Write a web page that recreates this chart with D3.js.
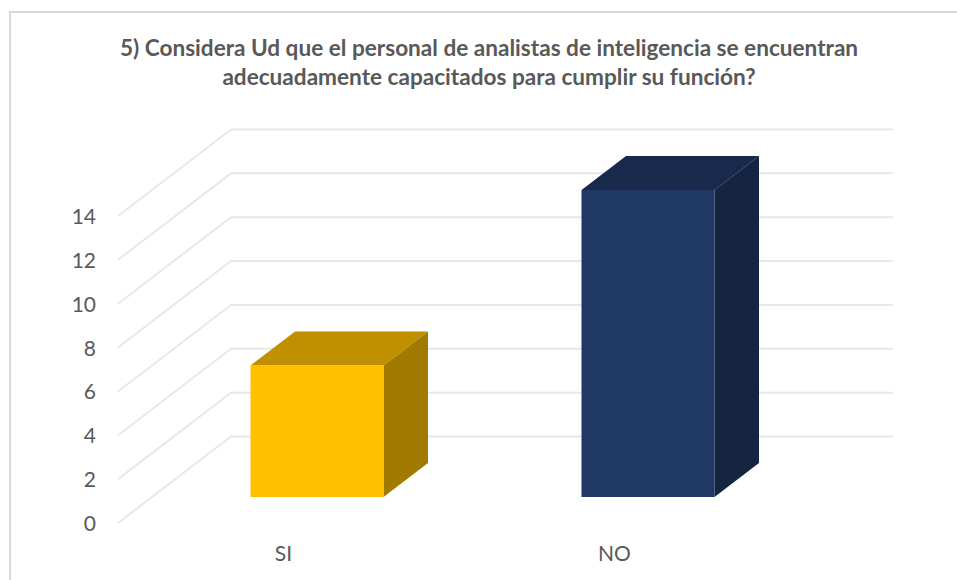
<!DOCTYPE html>
<html><head><meta charset="utf-8">
<script src="https://cdnjs.cloudflare.com/ajax/libs/d3/7.8.5/d3.min.js"></script>
<style>html,body{margin:0;padding:0;background:#fff}svg{display:block}</style>
</head><body><svg id="c" width="957" height="580"></svg>
<script>
const categories = ["SI", "NO"];
const values = [6, 14];
const colors = ["#FFC000", "#1F3864"];
const topColors = ["#C09000", "#18294B"];
const sideColors = ["#A37A00", "#152440"];
const tickValues = [0, 2, 4, 6, 8, 10, 12, 14];
const titleLines = ["5) Considera Ud que el personal de analistas de inteligencia se encuentran", "adecuadamente capacitados para cumplir su función?"];

const svg = d3.select("#c");
svg.append("path").attr("d","M10 580V12H957").attr("fill","none").attr("stroke","#d9d9d9").attr("stroke-width",2);

const y = d3.scaleLinear().domain([0,14]).range([523,216]);
const x = d3.scaleBand().domain(categories).range([118,780]);
const wallDx = 113, wallDy = -86.5, wallRight = 893;
const grid = svg.append("g").attr("fill","none").attr("stroke","#e8e8e8").attr("stroke-width",2);
grid.selectAll("path").data(tickValues).join("path")
  .attr("d", d => d3.line()([[x.range()[0],y(d)],[x.range()[0]+wallDx,y(d)+wallDy],[wallRight,y(d)+wallDy]]));

const barW = 133, dep = 44.5, depY = -34, floorDx = 33.5, floorY = -26;
const bars = svg.selectAll("g.bar").data(categories).join("g").attr("class","bar");
bars.each(function(c,i){
  const g = d3.select(this), l = x(c)+x.bandwidth()/2-barW/2+floorDx, r = l+barW, b = y(0)+floorY, t = y(values[i])+floorY;
  const poly = pts => d3.line().curve(d3.curveLinearClosed)(pts);
  g.append("path").attr("d",poly([[l,t],[r,t],[r+dep,t+depY],[l+dep,t+depY]])).attr("fill",topColors[i]);
  g.append("path").attr("d",poly([[r,t],[r+dep,t+depY],[r+dep,b+depY],[r,b]])).attr("fill",sideColors[i]);
  g.append("rect").attr("x",l).attr("y",t).attr("width",barW).attr("height",b-t).attr("fill",colors[i]);
});

const font = "Lato, 'Open Sans', sans-serif";
svg.selectAll("text.tick").data(tickValues).join("text").attr("class","tick")
  .attr("x",96).attr("y",d=>y(d)+8).attr("text-anchor","end")
  .attr("font-family",font).attr("font-size",21).attr("fill","#595959").text(d=>d);
svg.selectAll("text.cat").data(categories).join("text").attr("class","cat")
  .attr("x",c=>x(c)+x.bandwidth()/2).attr("y",561).attr("text-anchor","middle")
  .attr("font-family",font).attr("font-size",21).attr("fill","#595959").text(c=>c);
svg.selectAll("text.title").data(titleLines).join("text").attr("class","title")
  .attr("x",489).attr("y",(d,i)=>56+i*29).attr("text-anchor","middle")
  .attr("font-family",font).attr("font-weight",700).attr("font-size",22.6).attr("fill","#595959").text(d=>d);
</script></body></html>
